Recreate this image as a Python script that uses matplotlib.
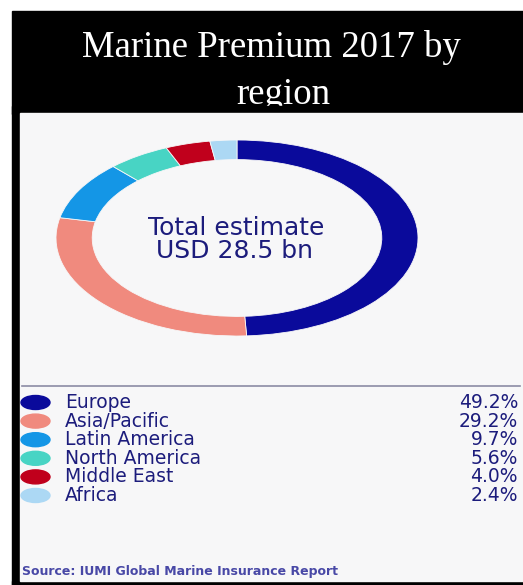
import matplotlib
matplotlib.use('Agg')
from matplotlib import pyplot as plt
from matplotlib.patches import Rectangle, Ellipse

# data
regions = ['Europe', 'Asia/Pacific', 'Latin America', 'North America', 'Middle East', 'Africa']
shares = [49.2, 29.2, 9.7, 5.6, 4.0, 2.4]
share_labels = ['49.2%', '29.2%', '9.7%', '5.6%', '4.0%', '2.4%']
colors = ['#0a0a9b', '#f08a7e', '#1496e6', '#48d4c4', '#c0001c', '#acd8f4']

title_lines = ['Marine Premium 2017 by', 'region']
center_lines = ['Total estimate', 'USD 28.5 bn']
source = 'Source: IUMI Global Marine Insurance Report'

W, H = 523, 585
bg_col = '#f7f7f8'
navy = '#1c1c7c'

fig = plt.figure(figsize=(W / 100, H / 100), dpi=100)
fig.patch.set_facecolor('white')

# full-figure canvas in pixel coords (y downwards)
base = fig.add_axes([0, 0, 1, 1])
base.set_xlim(0, W)
base.set_ylim(H, 0)
base.axis('off')

# title bar and frame
base.add_patch(Rectangle((12, 11), W - 12, 102, color='black', zorder=1))
base.text(271.5, 57, title_lines[0], color='white', family='Liberation Serif',
          fontsize=26.5, ha='center', va='baseline', zorder=2)
base.text(283, 104, title_lines[1], color='white', family='Liberation Serif',
          fontsize=26.5, ha='center', va='baseline', zorder=2)
# second title line is cut off at the bottom in the reference
base.add_patch(Rectangle((12, 105.5), W - 12, 8, color='black', zorder=2.5))

base.add_patch(Rectangle((12, 113), 8, H - 113, color='black', zorder=3))
base.add_patch(Rectangle((12, 581), W - 12, 4, color='black', zorder=3))
base.add_patch(Rectangle((20, 113), W - 20, 468, color=bg_col, zorder=3))

# separator above legend
base.plot([22, 520], [386, 386], color='#8c8ca4', lw=1.2, zorder=4)

# legend
row0, row_h = 402.5, 18.6
for i, (name, lab, c) in enumerate(zip(regions, share_labels, colors)):
    y = row0 + i * row_h
    base.add_patch(Ellipse((35.5, y), 29, 14, color=c, zorder=5))
    base.text(65, y, name, color=navy, fontsize=13.5, ha='left', va='center', zorder=5)
    base.text(518, y, lab, color=navy, fontsize=13.5, ha='right', va='center', zorder=5)

base.text(22, 572, source, color='#4848a6', fontsize=9, fontweight='bold',
          ha='left', va='center', zorder=5)

# donut (stretched into an ellipse like the reference)
l, r, t, b = 56, 418, 140, 336
ax = fig.add_axes([l / W, 1 - b / H, (r - l) / W, (b - t) / H])
ax.pie(shares, colors=colors, startangle=90, counterclock=False, radius=1,
       wedgeprops=dict(width=0.2, edgecolor=bg_col, linewidth=0.6))
ax.set_aspect('auto')
ax.set_xlim(-1, 1)
ax.set_ylim(-1, 1)
ax.axis('off')
ax.set_zorder(6)

base.text(236, 228, center_lines[0], color=navy, fontsize=18, ha='center', va='center', zorder=7)
base.text(235, 251, center_lines[1], color=navy, fontsize=18, ha='center', va='center', zorder=7)

fig.savefig('out.png', dpi=100, facecolor=fig.get_facecolor())
